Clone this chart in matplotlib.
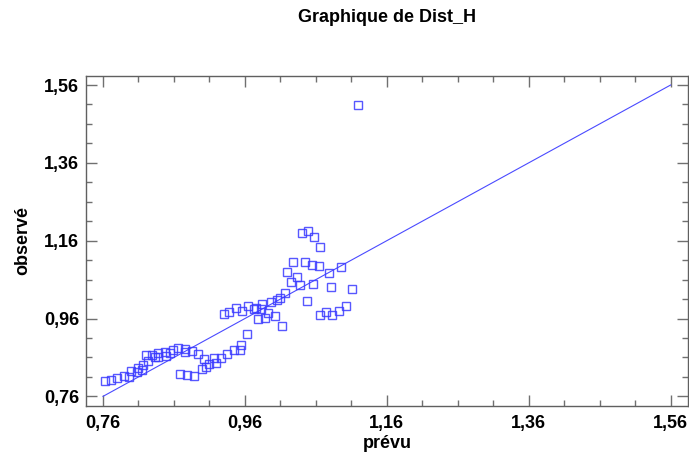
import matplotlib
matplotlib.use("Agg")
import matplotlib.pyplot as plt
from matplotlib.ticker import MultipleLocator, FuncFormatter

plt.rcParams['font.family'] = ['Liberation Sans', 'DejaVu Sans']

prevu = [0.763, 0.771, 0.780, 0.789, 0.796, 0.800, 0.808, 0.810, 0.815, 0.817,
         0.824, 0.821, 0.829, 0.833, 0.838, 0.838, 0.847, 0.849, 0.855, 0.858,
         0.866, 0.875, 0.876, 0.886, 0.894, 0.903, 0.869, 0.879, 0.888, 0.899,
         0.905, 0.909, 0.917, 0.919, 0.926, 0.935, 0.945, 0.953, 0.955, 0.963,
         0.930, 0.938, 0.947, 0.956, 0.965, 0.973, 0.976, 0.984, 0.983, 0.993,
         0.997, 1.005, 1.010, 0.979, 0.988, 1.002, 1.012, 1.016, 1.025, 1.034,
         1.038, 1.056, 1.082, 1.111, 1.047, 1.066, 1.075, 1.083, 1.093, 1.102,
         1.019, 1.078, 1.096, 1.028, 1.045, 1.055, 1.064, 1.040, 1.049, 1.058,
         1.066, 1.120]
observe = [0.800, 0.802, 0.808, 0.813, 0.811, 0.826, 0.822, 0.834, 0.828, 0.840,
           0.850, 0.867, 0.867, 0.860, 0.871, 0.862, 0.875, 0.864, 0.871, 0.878,
           0.883, 0.881, 0.873, 0.877, 0.868, 0.856, 0.818, 0.815, 0.812, 0.831,
           0.836, 0.842, 0.859, 0.846, 0.859, 0.868, 0.878, 0.879, 0.892, 0.919,
           0.972, 0.978, 0.987, 0.980, 0.993, 0.984, 0.988, 0.997, 0.985, 0.974,
           1.002, 1.008, 1.012, 0.958, 0.961, 0.967, 0.942, 1.026, 1.054, 1.066,
           1.047, 1.048, 1.042, 1.036, 1.006, 0.968, 0.976, 0.968, 0.980, 0.991,
           1.080, 1.077, 1.093, 1.104, 1.105, 1.097, 1.094, 1.181, 1.186, 1.169,
           1.145, 1.509]

line_x = [0.76, 1.56]
line_y = [0.76, 1.56]

tick_vals = [0.76, 0.96, 1.16, 1.36, 1.56]

fig = plt.figure(figsize=(6.89, 4.55), dpi=100)
ax = fig.add_axes([86/689, 1-405.7/455, (688.3-86)/689, (405.7-75.7)/455])

ax.plot(line_x, line_y, color='#4a4aff', linewidth=0.8, zorder=2)
ax.plot(prevu, observe, linestyle='none', marker='s', markersize=5.6,
        markerfacecolor='none', markeredgecolor='#3a3aff', markeredgewidth=1.0,
        alpha=0.85, zorder=3)

ax.set_xlim(0.736, 1.585)
ax.set_ylim(0.736, 1.584)
ax.xaxis.set_major_locator(plt.FixedLocator(tick_vals))
ax.yaxis.set_major_locator(plt.FixedLocator(tick_vals))
ax.xaxis.set_minor_locator(MultipleLocator(0.05, offset=0.01))
ax.yaxis.set_minor_locator(MultipleLocator(0.05, offset=0.01))
fmt = FuncFormatter(lambda v, p: f"{v:.2f}".replace('.', ','))
ax.xaxis.set_major_formatter(fmt)
ax.yaxis.set_major_formatter(fmt)

ax.tick_params(which='both', direction='in', top=True, right=True,
               color='#707070', width=1.0)
ax.tick_params(which='major', length=8, labelsize=13)
ax.tick_params(axis='x', which='major', pad=7)
ax.tick_params(axis='y', which='major', pad=5)
ax.tick_params(which='minor', length=4.3)
for lab in ax.get_xticklabels() + ax.get_yticklabels():
    lab.set_fontweight('bold')
for s in ax.spines.values():
    s.set_color('#606060')
    s.set_linewidth(1.0)

ax.set_xlabel('prévu', fontsize=13, fontweight='bold', labelpad=2)
ax.set_ylabel('observé', fontsize=13, fontweight='bold', labelpad=9)
fig.text(387/689, 1-18/455, 'Graphique de Dist_H', ha='center', va='center',
         fontsize=13, fontweight='bold')

fig.savefig('out.png', dpi=100)
